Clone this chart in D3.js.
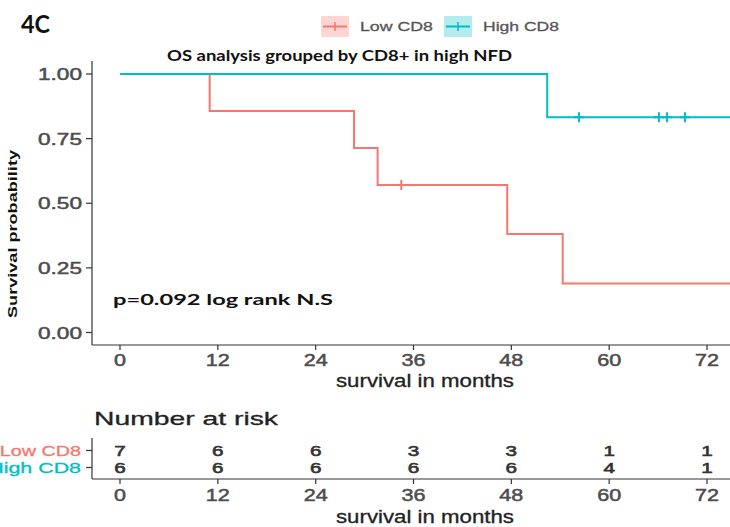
<!DOCTYPE html>
<html>
<head>
<meta charset="utf-8">
<script src="https://cdn.jsdelivr.net/npm/d3@7"></script>
<style>
  html, body { margin: 0; padding: 0; background: #fff; }
  svg { display: block; }
</style>
</head>
<body>
<svg id="chart" width="730" height="527"></svg>
<script>
// Kaplan-Meier steps per group: event times and survival after each step
const groups = ["Low CD8", "High CD8"];
const groupColors = ["#F8766D", "#00BFC4"];
const lowTimes = [0, 11, 28.7, 31.6, 47.5, 54.3];
const lowSurv = [1, 0.857, 0.714, 0.571, 0.381, 0.190];
const lowCensorTimes = [34.5];
const highTimes = [0, 52.4];
const highSurv = [1, 0.833];
const highCensorTimes = [56.3, 66.1, 67.1, 69.3];
const followUpEnd = 77;

// Axis ticks
const xTicks = [0, 12, 24, 36, 48, 60, 72];
const yTicks = [0, 0.25, 0.5, 0.75, 1];

// Number at risk table
const lowAtRisk = [7, 6, 6, 3, 3, 1, 1];
const highAtRisk = [6, 6, 6, 6, 6, 4, 1];

const svg = d3.select("#chart");
const axisColor = "#333";
const tickText = "#4d4d4d";

const x = d3.scaleLinear().domain([0, 72]).range([120, 707]);
const y = d3.scaleLinear().domain([0, 1]).range([332.5, 74]);

// text helper: font size plus a forced rendered width
function label(g, str, opt) {
  const t = g.append("text")
    .attr("x", opt.x).attr("y", opt.y)
    .attr("font-family", opt.family || "'Liberation Sans', Arial, sans-serif")
    .attr("font-size", opt.size)
    .attr("font-weight", opt.weight || "normal")
    .attr("fill", opt.fill || "#222")
    .attr("text-anchor", opt.anchor || "start")
    .attr("dominant-baseline", "central")
    .text(str);
  if (opt.heavy) t.attr("stroke", opt.fill || "#222").attr("stroke-width", opt.heavy);
  if (opt.width) t.attr("textLength", opt.width).attr("lengthAdjust", "spacingAndGlyphs");
  if (opt.rotate) t.attr("transform", `rotate(${opt.rotate},${opt.x},${opt.y})`);
  return t;
}

// panel tag
label(svg, "4C", {x: 21, y: 23, size: 25, weight: "bold", family: "Lato, 'Open Sans', sans-serif", fill: "#111", width: 29});

// legend
const legendItems = [
  {name: groups[0], color: groupColors[0], bx: 321, tx: 360, tw: 73},
  {name: groups[1], color: groupColors[1], bx: 444, tx: 483, tw: 76}
];
legendItems.forEach(d => {
  const g = svg.append("g");
  g.append("rect").attr("x", d.bx).attr("y", 16).attr("width", 28).attr("height", 21)
    .attr("fill", d.color).attr("opacity", 0.3);
  g.append("line").attr("x1", d.bx + 2).attr("x2", d.bx + 26).attr("y1", 26.5).attr("y2", 26.5)
    .attr("stroke", d.color).attr("stroke-width", 2);
  g.append("line").attr("x1", d.bx + 14).attr("x2", d.bx + 14).attr("y1", 22).attr("y2", 31)
    .attr("stroke", d.color).attr("stroke-width", 1.5);
  label(g, d.name, {x: d.tx, y: 26.5, size: 13.5, fill: "#555", width: d.tw, heavy: 0.3});
});

// title
label(svg, "OS analysis grouped by CD8+ in high NFD", {x: 167, y: 55, size: 15, weight: "bold",
  family: "Lato, 'Open Sans', sans-serif", fill: "#111", width: 345});

// main axes
const main = svg.append("g");
main.append("line").attr("x1", 92).attr("x2", 92).attr("y1", 61).attr("y2", 345)
  .attr("stroke", axisColor).attr("stroke-width", 1.2);
main.append("line").attr("x1", 92).attr("x2", 730).attr("y1", 345).attr("y2", 345)
  .attr("stroke", axisColor).attr("stroke-width", 1.2);

yTicks.forEach(v => {
  main.append("line").attr("x1", 86).attr("x2", 92).attr("y1", y(v)).attr("y2", y(v))
    .attr("stroke", axisColor).attr("stroke-width", 1.2);
  label(main, d3.format(".2f")(v), {x: 82, y: y(v), size: 16.5, fill: tickText, anchor: "end",
    width: 44, heavy: 0.5});
});
xTicks.forEach(v => {
  main.append("line").attr("x1", x(v)).attr("x2", x(v)).attr("y1", 345).attr("y2", 350)
    .attr("stroke", axisColor).attr("stroke-width", 1.2);
  label(main, String(v), {x: x(v), y: 360, size: 17, fill: tickText, anchor: "middle",
    width: String(v).length * 12, heavy: 0.5});
});

label(main, "survival in months", {x: 425, y: 381, size: 17.5, fill: "#222", anchor: "middle", width: 178, heavy: 0.3});
label(main, "Survival probability", {x: 12, y: 234, size: 13, weight: "bold", fill: "#111",
  anchor: "middle", rotate: -90, width: 168});

// survival curves
function stepPath(times, surv) {
  const pts = [];
  times.forEach((t, i) => {
    if (i > 0) pts.push([t, surv[i - 1]]);
    pts.push([t, surv[i]]);
  });
  pts.push([followUpEnd, surv[surv.length - 1]]);
  return d3.line().x(d => x(d[0])).y(d => y(d[1]))(pts);
}
function survAt(times, surv, t) {
  let s = surv[0];
  times.forEach((tt, i) => { if (tt <= t) s = surv[i]; });
  return s;
}
const curves = [
  {times: lowTimes, surv: lowSurv, cens: lowCensorTimes, color: groupColors[0]},
  {times: highTimes, surv: highSurv, cens: highCensorTimes, color: groupColors[1]}
];
curves.forEach(c => {
  main.append("path").attr("d", stepPath(c.times, c.surv))
    .attr("fill", "none").attr("stroke", c.color).attr("stroke-width", 2);
  c.cens.forEach(t => {
    const cx = x(t), cy = y(survAt(c.times, c.surv, t));
    main.append("path").attr("d", `M${cx - 5},${cy}H${cx + 5}M${cx},${cy - 5}V${cy + 5}`)
      .attr("stroke", c.color).attr("stroke-width", 2).attr("fill", "none");
  });
});

label(main, "p=0.092 log rank N.S", {x: 113, y: 298, size: 16, weight: "bold",
  family: "Lato, 'Open Sans', sans-serif", fill: "#111", width: 220});

// number at risk table
const risk = svg.append("g");
label(risk, "Number at risk", {x: 94, y: 418, size: 19, fill: "#222", width: 184, heavy: 0.3});
const rowY = [450.5, 467.5];
const rows = [lowAtRisk, highAtRisk];
risk.append("line").attr("x1", 92).attr("x2", 92).attr("y1", 438).attr("y2", 479)
  .attr("stroke", axisColor).attr("stroke-width", 1.2);
risk.append("line").attr("x1", 92).attr("x2", 730).attr("y1", 479).attr("y2", 479)
  .attr("stroke", axisColor).attr("stroke-width", 1.2);
rows.forEach((vals, r) => {
  risk.append("line").attr("x1", 86).attr("x2", 92).attr("y1", rowY[r]).attr("y2", rowY[r])
    .attr("stroke", axisColor).attr("stroke-width", 1.2);
  label(risk, groups[r], {x: 81, y: rowY[r], size: 15, fill: groupColors[r], anchor: "end",
    width: groups[r].length * 11.6, heavy: 0.3});
  vals.forEach((v, i) => {
    label(risk, String(v), {x: x(xTicks[i]), y: rowY[r], size: 15, fill: "#333", anchor: "middle",
      width: 11.5, heavy: 0.6});
  });
});
xTicks.forEach(v => {
  risk.append("line").attr("x1", x(v)).attr("x2", x(v)).attr("y1", 479).attr("y2", 484)
    .attr("stroke", axisColor).attr("stroke-width", 1.2);
  label(risk, String(v), {x: x(v), y: 495, size: 17, fill: tickText, anchor: "middle",
    width: String(v).length * 12, heavy: 0.5});
});
label(risk, "survival in months", {x: 425, y: 517, size: 17.5, fill: "#222", anchor: "middle", width: 178, heavy: 0.3});
</script>
</body>
</html>
